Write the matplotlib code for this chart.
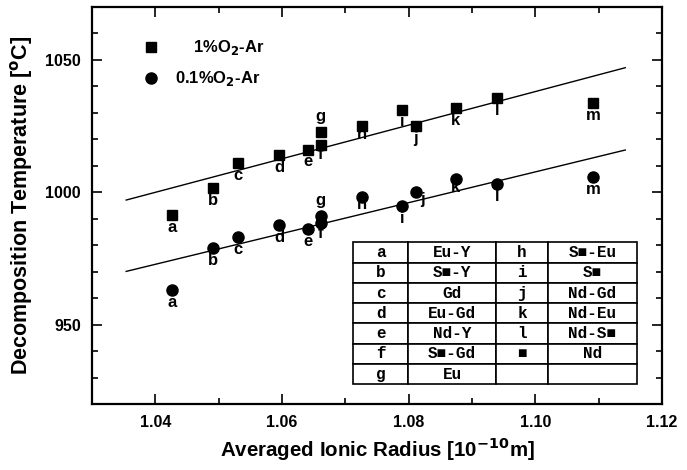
import matplotlib
matplotlib.use("Agg")
import matplotlib.pyplot as plt
import numpy as np

# ---- data ----
labels = ["a", "b", "c", "d", "e", "f", "g", "h", "i", "j", "k", "l", "m"]
radius = [1.0426, 1.0491, 1.0530, 1.0596, 1.0641, 1.0661, 1.0661,
          1.0726, 1.0790, 1.0811, 1.0874, 1.0939, 1.1091]
temp_1pct = [991.4, 1001.8, 1010.9, 1014.0, 1015.9, 1017.9, 1022.8,
             1025.1, 1031.0, 1024.9, 1031.8, 1035.8, 1033.7]
temp_01pct = [963.1, 978.9, 983.0, 987.7, 986.1, 988.5, 991.0,
              998.4, 994.9, 1000.0, 1005.0, 1003.1, 1005.8]
fit_x_range = [1.0354, 1.1142]
fit_1pct = [634.5, 340.1]     # slope, intercept
fit_01pct = [582.0, 367.5]

table_rows = [["a", "Eu-Y", "h", "S■-Eu"],
              ["b", "S■-Y", "i", "S■"],
              ["c", "Gd", "j", "Nd-Gd"],
              ["d", "Eu-Gd", "k", "Nd-Eu"],
              ["e", "Nd-Y", "l", "Nd-S■"],
              ["f", "S■-Gd", "■", "Nd"],
              ["g", "Eu", "", ""]]

series_names = ["1%O$_\\mathbf{2}$-Ar", "0.1%O$_\\mathbf{2}$-Ar"]

# label offsets (points) for each letter: below by default
off_sq = {"g": (0, 11), "f": (0, -7), "h": (0, -6), "i": (0, -8), "e": (0, -8)}
off_ci = {"g": (0, 11), "f": (0, -8), "h": (0, -6), "i": (0, -9), "k": (0, -6),
          "j": (5, -5)}

plt.rcParams["font.family"] = ["Liberation Sans", "DejaVu Sans"]
plt.rcParams["font.weight"] = "bold"
plt.rcParams["mathtext.default"] = "bf"

fig = plt.figure(figsize=(6.87, 4.70), dpi=100)
ax = fig.add_axes([92 / 687, 1 - 404 / 470, 570 / 687, 397 / 470])

ax.plot(radius, temp_1pct, "s", color="black", markersize=7.2, zorder=3)
ax.plot(radius, temp_01pct, "o", color="black", markersize=8, zorder=3)

xf = np.array(fit_x_range)
ax.plot(xf, fit_1pct[0] * xf + fit_1pct[1], color="black", lw=1.0)
ax.plot(xf, fit_01pct[0] * xf + fit_01pct[1], color="black", lw=1.0)

for lab, x, y1, y2 in zip(labels, radius, temp_1pct, temp_01pct):
    dx, dy = off_sq.get(lab, (0, -9))
    ax.annotate(lab, (x, y1), xytext=(dx, dy), textcoords="offset points",
                ha="center", va="center", fontsize=12, fontweight="bold")
    dx, dy = off_ci.get(lab, (0, -9))
    ax.annotate(lab, (x, y2), xytext=(dx, dy), textcoords="offset points",
                ha="center", va="center", fontsize=12, fontweight="bold")

# legend (manual, in axes fraction)
ax.plot([0.104], [0.898], "s", color="black", markersize=7.2, transform=ax.transAxes)
ax.plot([0.104], [0.820], "o", color="black", markersize=8, transform=ax.transAxes)
ax.text(0.178, 0.898, series_names[0], transform=ax.transAxes, va="center",
        ha="left", fontsize=12, fontweight="bold")
ax.text(0.145, 0.820, series_names[1], transform=ax.transAxes, va="center",
        ha="left", fontsize=12, fontweight="bold")

# table
tbl = ax.table(cellText=table_rows, cellLoc="center",
               colWidths=[0.194 * 0.498, 0.310 * 0.498, 0.183 * 0.498, 0.313 * 0.498],
               bbox=[0.458, 0.050, 0.498, 0.357])
tbl.auto_set_font_size(False)
for (r, c), cell in tbl.get_celld().items():
    cell.set_linewidth(1.2)
    cell.set_edgecolor("black")
    cell.get_text().set_fontsize(11.5)
    cell.get_text().set_fontfamily(["Liberation Mono", "DejaVu Sans Mono"])
    cell.get_text().set_fontweight("bold")

ax.set_xlim(1.03, 1.12)
ax.set_ylim(920, 1070)
ax.set_xticks([1.04, 1.06, 1.08, 1.10, 1.12])
ax.set_xticklabels(["1.04", "1.06", "1.08", "1.10", "1.12"])
ax.set_xticks(np.arange(1.03, 1.121, 0.01), minor=True)
ax.set_yticks([950, 1000, 1050])
ax.set_yticks(np.arange(920, 1071, 10), minor=True)
ax.tick_params(which="both", direction="in", top=True, right=True, width=1.2)
ax.tick_params(which="major", length=7, labelsize=11.5, pad=8)
ax.tick_params(which="minor", length=4)
for t in ax.get_xticklabels() + ax.get_yticklabels():
    t.set_fontweight("bold")
for s in ax.spines.values():
    s.set_linewidth(1.6)

ax.set_xlabel("Averaged Ionic Radius [10$^{\\mathbf{-10}}$m]", fontsize=14.8,
              fontweight="bold", labelpad=4)
ax.set_ylabel("Decomposition Temperature [$^\\mathbf{o}$C]", fontsize=15.5,
              fontweight="bold", labelpad=7)

fig.savefig("out.png", dpi=100)
